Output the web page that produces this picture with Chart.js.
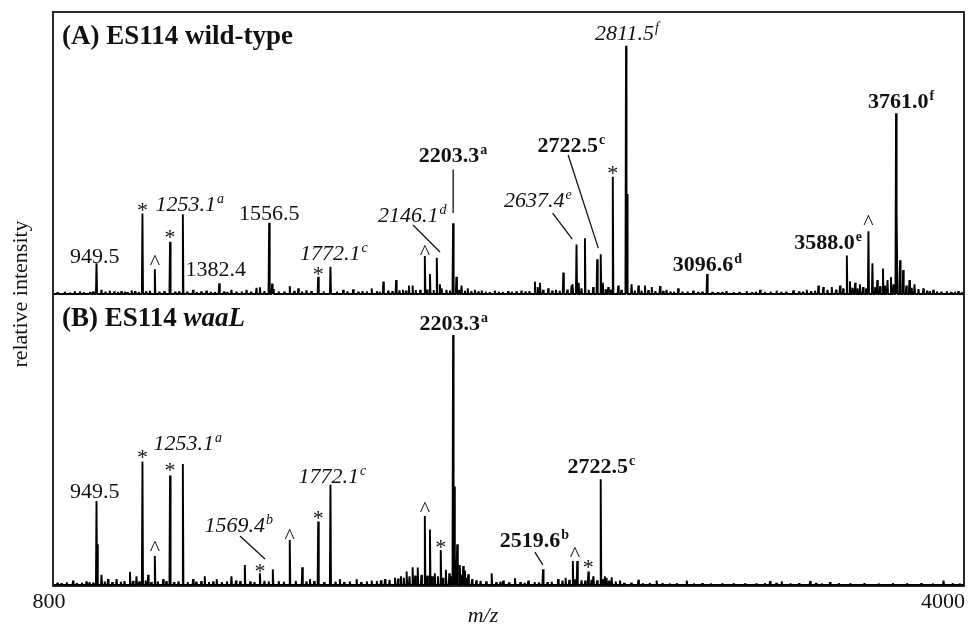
<!DOCTYPE html>
<html>
<head>
<meta charset="utf-8">
<script src="https://cdn.jsdelivr.net/npm/chart.js@4.4.1/dist/chart.umd.min.js"></script>
<style>
  html, body { margin: 0; padding: 0; background: #fff; }
</style>
</head>
<body>
<canvas id="msChart" width="969" height="627"></canvas>
<script>
// m/z range and axis tick labels
const mzRange = [800, 4000];
const xTickLabels = ['800', '4000'];

// (A) ES114 wild-type: [m/z, relative intensity]
const peaksA = [
  [873, 1.0], [949.5, 10.9], [967, 1.5], [996, 1.2], [1037, 1.0], [1073, 1.3],
  [1111, 28.6], [1137, 1.2], [1154.5, 8.8], [1208, 18.5], [1253.1, 28.3],
  [1289, 1.5], [1336, 1.2], [1381, 3.8], [1424, 1.5], [1477, 1.5], [1512, 2.2],
  [1524, 2.4], [1556.5, 25.3], [1567, 3.7], [1571, 1.8], [1629, 2.8], [1659, 2.0],
  [1688, 1.3], [1729, 6.1], [1772.1, 9.7], [1817, 1.5], [1852, 1.7], [1917, 2.0],
  [1958, 4.4], [2003, 5.0], [2027, 1.5], [2048, 3.0], [2061, 3.0], [2104, 13.5],
  [2122, 7.1], [2146.1, 12.9], [2157, 3.5], [2163, 2.0], [2203.3, 25.1], [2215, 6.1],
  [2233, 3.0], [2255, 2.0], [2280, 1.5], [2304, 1.3], [2350, 1.2], [2397, 1.0],
  [2444, 1.2], [2491, 4.4], [2501, 2.5], [2509, 4.0], [2538, 2.0], [2591, 7.6],
  [2620, 3.0], [2624, 3.5], [2637.4, 17.6], [2645, 4.0], [2667, 19.8], [2696, 2.5],
  [2710, 12.3], [2722.5, 14.1], [2730, 4.0], [2749, 2.5], [2765, 41.6], [2784, 3.0],
  [2811.5, 88.0], [2815, 35.5], [2831, 3.5], [2855, 3.0], [2878, 3.0], [2902, 2.5],
  [2931, 2.8], [2954, 1.5], [2995, 2.0], [3048, 1.2], [3096.6, 7.1], [3165, 1.0],
  [3236, 1.0], [3283, 1.5], [3341, 1.2], [3400, 1.3], [3447, 1.5], [3488, 3.0],
  [3505, 2.5], [3535, 2.5], [3564, 3.0], [3588.0, 13.7], [3599, 4.5], [3617, 4.0],
  [3634, 3.5], [3664, 22.3], [3678, 10.9], [3695, 5.0], [3715, 9.1], [3731, 5.0],
  [3743, 6.0], [3761.0, 64.1], [3764, 28.7], [3775, 12.0], [3786, 8.5], [3808, 5.0],
  [3826, 3.5], [3857, 2.0], [3892, 1.5], [3939, 1.0], [3980, 1.0]
];
const noiseA = [
  [812, .6], [838, .8], [856, .5], [891, .9], [905, .6], [927, .7], [938, .9], [981, .8],
  [1012, .9], [1025, .7], [1049, .8], [1058, .6], [1085, 1.0], [1098, .7], [1124, .9],
  [1170, .8], [1188, 1.0], [1226, .8], [1240, .9], [1268, .8], [1302, .7], [1318, .9],
  [1351, .8], [1366, .7], [1398, .9], [1410, .7], [1441, .8], [1460, .9], [1493, .8],
  [1540, 1.0], [1590, .9], [1610, .8], [1645, 1.1], [1672, .9], [1705, 1.0], [1748, .9],
  [1795, .8], [1832, .9], [1870, .8], [1885, 1.0], [1900, .9], [1935, 1.0], [1945, .8],
  [1975, 1.2], [1990, 1.0], [2015, 1.3], [2038, 1.2], [2072, 1.4], [2088, 1.5], [2112, 1.6],
  [2135, 1.4], [2180, 1.5], [2192, 1.3], [2225, 1.5], [2245, 1.2], [2268, 1.0], [2292, .9],
  [2318, .8], [2332, .7], [2364, .8], [2378, .7], [2410, .8], [2426, .9], [2458, .9],
  [2472, 1.0], [2520, 1.5], [2552, 1.2], [2565, 1.5], [2578, 1.2], [2605, 1.6], [2655, 2.0],
  [2680, 1.5], [2740, 1.8], [2758, 1.6], [2795, 1.5], [2842, 1.3], [2866, 1.2], [2890, 1.4],
  [2915, 1.0], [2942, 1.1], [2968, .9], [2980, .8], [3010, .8], [3028, .9], [3065, .7],
  [3080, .8], [3115, .7], [3135, .6], [3150, .7], [3190, .6], [3210, .7], [3255, .6],
  [3268, .8], [3300, .7], [3320, .8], [3358, .7], [3375, .8], [3420, .9], [3434, .8],
  [3462, 1.0], [3476, 1.2], [3520, 1.5], [3550, 1.6], [3575, 2.0], [3608, 2.2], [3626, 2.0],
  [3645, 2.5], [3655, 2.0], [3688, 2.5], [3705, 2.8], [3722, 3.0], [3752, 3.5], [3797, 3.0],
  [3816, 2.2], [3840, 1.8], [3870, 1.2], [3880, 1.0], [3905, .9], [3920, .8], [3955, .7],
  [3968, .8], [3992, .6]
];

// (B) ES114 waaL
const peaksB = [
  [867, 1.5], [914, 1.2], [949.5, 28.9], [952, 14.0], [967, 3.5], [990, 2.0], [1020, 2.0],
  [1067, 4.5], [1090, 3.0], [1111, 42.4], [1131, 3.5], [1154.5, 10.0], [1184, 2.0],
  [1208, 37.6], [1253.1, 41.6], [1289, 2.0], [1330, 3.0], [1372, 2.0], [1424, 3.0],
  [1471, 6.9], [1524, 4.0], [1569.4, 5.4], [1629, 15.5], [1673, 6.1], [1700, 2.0],
  [1729, 21.8], [1772.1, 34.4], [1805, 2.0], [1864, 2.0], [1917, 1.5], [1964, 2.0],
  [1999, 2.5], [2020, 3.0], [2040, 4.6], [2061, 6.1], [2079, 6.0], [2104, 23.7],
  [2122, 19.1], [2139, 4.0], [2160, 12.0], [2178, 5.2], [2190, 4.0], [2203.3, 85.9],
  [2207, 33.8], [2218, 14.0], [2227, 6.9], [2239, 6.5], [2245, 5.0], [2257, 3.7],
  [2339, 4.0], [2380, 1.5], [2421, 2.3], [2468, 1.5], [2519.6, 5.4], [2573, 2.0],
  [2599, 2.5], [2624.5, 8.2], [2640, 8.2], [2679, 4.6], [2697, 3.0], [2722.5, 36.3],
  [2737, 3.0], [2743, 2.5], [2761, 2.6], [2790, 1.5], [2855, 1.8], [2919, 1.5],
  [3025, 1.5], [3318, 1.3], [3359, 1.2], [3459, 1.4], [3529, 1.0], [3928, 1.5]
];
const noiseB = [
  [812, .8], [826, .6], [845, .9], [880, .7], [898, .8], [925, 1.0], [938, .8], [978, 1.2],
  [1005, 1.0], [1035, 1.1], [1048, 1.3], [1078, 1.4], [1100, 1.2], [1122, 1.5], [1142, 1.0],
  [1165, 1.2], [1195, 1.3], [1222, 1.0], [1238, 1.2], [1270, 1.0], [1300, 1.1], [1318, 1.3],
  [1345, 1.0], [1360, 1.2], [1390, 1.0], [1408, 1.2], [1440, 1.5], [1455, 1.3], [1490, 1.2],
  [1505, 1.0], [1540, 1.4], [1555, 1.2], [1590, 1.3], [1608, 1.1], [1650, 1.4], [1688, 1.2],
  [1715, 1.3], [1750, 1.0], [1790, 1.1], [1820, 1.0], [1840, 1.2], [1880, 1.0], [1900, 1.2],
  [1935, 1.4], [1950, 1.6], [1980, 1.8], [2010, 2.2], [2030, 2.5], [2050, 3.0], [2070, 3.2],
  [2092, 3.5], [2113, 3.2], [2130, 3.0], [2150, 3.0], [2168, 2.5], [2197, 3.0], [2212, 4.0],
  [2234, 3.5], [2251, 2.5], [2270, 2.0], [2285, 1.6], [2300, 1.4], [2320, 1.2], [2355, 1.0],
  [2370, 1.1], [2400, .9], [2440, 1.0], [2455, .8], [2490, 1.0], [2505, .9], [2535, 1.0],
  [2550, 1.1], [2588, 1.5], [2612, 1.8], [2632, 2.0], [2655, 1.6], [2668, 1.5], [2690, 1.8],
  [2710, 1.6], [2730, 2.0], [2752, 1.5], [2775, 1.2], [2805, .7], [2830, .8], [2870, .6],
  [2895, .7], [2940, .6], [2965, .5], [2990, .6], [3050, .5], [3080, .6], [3110, .5],
  [3150, .5], [3190, .6], [3230, .5], [3270, .5], [3300, .6], [3340, .7], [3390, .5],
  [3420, .6], [3480, .7], [3500, .5], [3560, .6], [3600, .5], [3650, .6], [3700, .5],
  [3750, .6], [3800, .5], [3850, .6], [3890, .5], [3960, .6], [3985, .5]
];

// peak annotations: text, superscript, style, anchor m/z (centre), intensity (text baseline)
const labelsA = [
  ['949.5', '', '', 943.6, 10.9],
  ['1253.1', 'a', 'italic', 1277.7, 29.5],
  ['1382.4', '', '', 1369, 6.4],
  ['1556.5', '', '', 1557, 26.2],
  ['1772.1', 'c', 'italic', 1784, 12.1],
  ['2146.1', 'd', 'italic', 2060, 25.6],
  ['2203.3', 'a', 'bold', 2203, 46.9],
  ['2637.4', 'e', 'italic', 2501.6, 31],
  ['2722.5', 'c', 'bold', 2619.5, 50.5],
  ['2811.5', 'f', 'italic', 2814.7, 90.1],
  ['3096.6', 'd', 'bold', 3098, 8.3],
  ['3588.0', 'e', 'bold', 3521.8, 15.9],
  ['3761.0', 'f', 'bold', 3779, 65.8]
];
const labelsB = [
  ['949.5', '', '', 943.6, 29.8],
  ['1253.1', 'a', 'italic', 1270.6, 46.4],
  ['1569.4', 'b', 'italic', 1450, 18.3],
  ['1772.1', 'c', 'italic', 1779, 34.9],
  ['2203.3', 'a', 'bold', 2206, 87.6],
  ['2519.6', 'b', 'bold', 2489, 13.2],
  ['2722.5', 'c', 'bold', 2725, 38.4]
];
// * and ^ markers: symbol, m/z, intensity (glyph centre)
const marksA = [['*', 1111, 30.7], ['^', 1154.5, 12.1], ['*', 1208, 21.4], ['*', 1729, 8.2],
  ['^', 2104, 15.5], ['*', 2765, 43.9], ['^', 3664, 26.1]];
const marksB = [['*', 1111, 45.1], ['^', 1154.5, 13.3], ['*', 1208, 40.5], ['*', 1524, 6.0],
  ['^', 1629, 17.6], ['*', 1729, 24], ['^', 2104, 26.8], ['*', 2160, 14.1], ['^', 2632, 11.3],
  ['*', 2679, 7.2]];
// leader lines: m/z1, int1, m/z2, int2
const leadersA = [[2062.4, 24.5, 2157.4, 14.9], [2203.7, 44.2, 2203.7, 28.7],
  [2553.5, 28.7, 2622.5, 19.5], [2608, 49.3, 2714, 16.3]];
const leadersB = [[1454, 16.8, 1542, 8.9], [2491, 11.3, 2519, 6.9]];

function stickPoints(peaks, noise) {
  const all = peaks.concat(noise).sort((p, q) => p[0] - q[0]);
  const pts = [{ x: mzRange[0], y: 0 }];
  all.forEach(([mz, h]) => {
    pts.push({ x: mz - 2, y: 0 }, { x: mz, y: h }, { x: mz + 2, y: 0 });
  });
  pts.push({ x: mzRange[1], y: 0 });
  return pts;
}

const SERIF = '"Liberation Serif", "Times New Roman", serif';

function drawLabel(ctx, x, y, text, sup, style) {
  const main = (style ? style + ' ' : '') + '22px ' + SERIF;
  const small = (style ? style + ' ' : '') + '14px ' + SERIF;
  ctx.font = main;
  const w1 = ctx.measureText(text).width;
  ctx.font = small;
  const w2 = sup ? ctx.measureText(sup).width + 1 : 0;
  const x0 = x - (w1 + w2) / 2;
  ctx.textAlign = 'left';
  ctx.textBaseline = 'alphabetic';
  ctx.font = main;
  ctx.fillText(text, x0, y);
  if (sup) {
    ctx.font = small;
    ctx.fillText(sup, x0 + w1 + 1, y - 8);
  }
}

const annotate = {
  id: 'annotate',
  afterDraw(chart) {
    const { ctx, chartArea: a, scales } = chart;
    const sx = scales.x;
    ctx.save();
    ctx.fillStyle = '#111';
    ctx.strokeStyle = '#111';

    // frame
    ctx.lineWidth = 1.8;
    ctx.strokeRect(a.left - 1, a.top, a.right - a.left + 1, a.bottom - a.top);

    const panels = [
      [scales.yA, labelsA, marksA, leadersA],
      [scales.yB, labelsB, marksB, leadersB]
    ];
    panels.forEach(([sy, labels, marks, leaders]) => {
      labels.forEach(([t, s, st, mz, v]) => {
        drawLabel(ctx, sx.getPixelForValue(mz), sy.getPixelForValue(v), t, s, st);
      });
      ctx.font = '22px ' + SERIF;
      ctx.textAlign = 'center';
      ctx.textBaseline = 'alphabetic';
      marks.forEach(([sym, mz, v]) => {
        const m = ctx.measureText(sym);
        const off = (m.actualBoundingBoxAscent - m.actualBoundingBoxDescent) / 2;
        ctx.fillText(sym, sx.getPixelForValue(mz), sy.getPixelForValue(v) + off);
      });
      ctx.lineWidth = 1.3;
      leaders.forEach(([m1, v1, m2, v2]) => {
        ctx.beginPath();
        ctx.moveTo(sx.getPixelForValue(m1), sy.getPixelForValue(v1));
        ctx.lineTo(sx.getPixelForValue(m2), sy.getPixelForValue(v2));
        ctx.stroke();
      });
    });

    // panel titles
    ctx.textAlign = 'left';
    ctx.font = 'bold 27px ' + SERIF;
    ctx.fillText('(A) ES114 wild-type', a.left + 8, a.top + 32);
    const bx = a.left + 8, by = a.top + 314;
    ctx.fillText('(B) ES114 ', bx, by);
    const wB = ctx.measureText('(B) ES114 ').width;
    ctx.font = 'italic bold 27px ' + SERIF;
    ctx.fillText('waaL', bx + wB, by);

    // x tick labels and titles
    ctx.font = '22px ' + SERIF;
    ctx.textAlign = 'center';
    ctx.fillText(xTickLabels[0], sx.getPixelForValue(mzRange[0]) - 5, a.bottom + 22);
    ctx.textAlign = 'right';
    ctx.fillText(xTickLabels[1], sx.getPixelForValue(mzRange[1]) + 1, a.bottom + 22);
    ctx.textAlign = 'center';
    ctx.font = 'italic 22px ' + SERIF;
    ctx.fillText('m/z', a.left + 429, a.bottom + 36);

    ctx.translate(21, 294);
    ctx.rotate(-Math.PI / 2);
    ctx.font = '22px ' + SERIF;
    ctx.textBaseline = 'middle';
    ctx.fillText('relative intensity', 0, 0);
    ctx.restore();
  }
};

new Chart(document.getElementById('msChart').getContext('2d'), {
  type: 'line',
  data: {
    datasets: [
      { data: stickPoints(peaksA, noiseA), yAxisID: 'yA', borderColor: '#000', borderWidth: 1.9,
        borderJoinStyle: 'bevel', pointRadius: 0, fill: false, tension: 0 },
      { data: stickPoints(peaksB, noiseB), yAxisID: 'yB', borderColor: '#000', borderWidth: 1.9,
        borderJoinStyle: 'bevel', pointRadius: 0, fill: false, tension: 0 }
    ]
  },
  options: {
    responsive: false,
    animation: false,
    events: [],
    layout: { padding: { left: 54, right: 5, top: 12, bottom: 41 } },
    scales: {
      x: { type: 'linear', min: mzRange[0], max: mzRange[1], display: false },
      yA: { type: 'linear', min: -103.5, max: 100, display: false },
      yB: { type: 'linear', min: -0.35, max: 196.9, display: false }
    },
    plugins: { legend: { display: false }, tooltip: { enabled: false } }
  },
  plugins: [annotate]
});
</script>
</body>
</html>
